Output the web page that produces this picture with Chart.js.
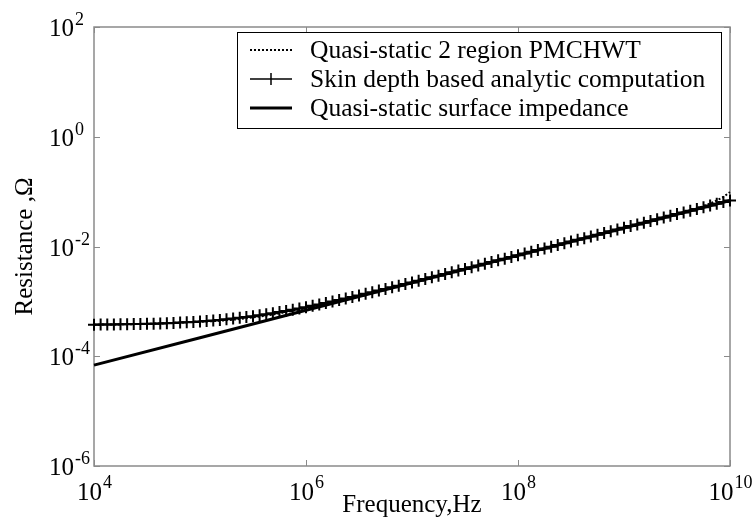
<!DOCTYPE html>
<html>
<head>
<meta charset="utf-8">
<script src="https://cdn.jsdelivr.net/npm/chart.js@4.4.0/dist/chart.umd.min.js"></script>
<style>
  html, body { margin: 0; padding: 0; background: #fff; }
</style>
</head>
<body>
<canvas id="plot" width="755" height="521"></canvas>
<script>
// frequency samples (Hz), 16 per decade
var freq = [
  1.000e4, 1.155e4, 1.334e4, 1.540e4, 1.778e4, 2.054e4, 2.371e4, 2.738e4, 3.162e4, 3.652e4, 4.217e4, 4.870e4, 5.623e4, 6.494e4, 7.499e4, 8.660e4,
  1.000e5, 1.155e5, 1.334e5, 1.540e5, 1.778e5, 2.054e5, 2.371e5, 2.738e5, 3.162e5, 3.652e5, 4.217e5, 4.870e5, 5.623e5, 6.494e5, 7.499e5, 8.660e5,
  1.000e6, 1.155e6, 1.334e6, 1.540e6, 1.778e6, 2.054e6, 2.371e6, 2.738e6, 3.162e6, 3.652e6, 4.217e6, 4.870e6, 5.623e6, 6.494e6, 7.499e6, 8.660e6,
  1.000e7, 1.155e7, 1.334e7, 1.540e7, 1.778e7, 2.054e7, 2.371e7, 2.738e7, 3.162e7, 3.652e7, 4.217e7, 4.870e7, 5.623e7, 6.494e7, 7.499e7, 8.660e7,
  1.000e8, 1.155e8, 1.334e8, 1.540e8, 1.778e8, 2.054e8, 2.371e8, 2.738e8, 3.162e8, 3.652e8, 4.217e8, 4.870e8, 5.623e8, 6.494e8, 7.499e8, 8.660e8,
  1.000e9, 1.155e9, 1.334e9, 1.540e9, 1.778e9, 2.054e9, 2.371e9, 2.738e9, 3.162e9, 3.652e9, 4.217e9, 4.870e9, 5.623e9, 6.494e9, 7.499e9, 8.660e9,
  1.000e10
];

// skin depth based analytic resistance (ohm)
var skinDepth = [
  3.76e-4, 3.77e-4, 3.79e-4, 3.80e-4, 3.81e-4, 3.83e-4, 3.85e-4, 3.87e-4, 3.90e-4, 3.93e-4, 3.96e-4, 4.00e-4, 4.05e-4, 4.10e-4, 4.16e-4, 4.22e-4,
  4.30e-4, 4.38e-4, 4.48e-4, 4.59e-4, 4.71e-4, 4.85e-4, 5.01e-4, 5.18e-4, 5.37e-4, 5.58e-4, 5.82e-4, 6.08e-4, 6.37e-4, 6.69e-4, 7.04e-4, 7.43e-4,
  7.85e-4, 8.31e-4, 8.81e-4, 9.35e-4, 9.94e-4, 1.059e-3, 1.128e-3, 1.203e-3, 1.285e-3, 1.373e-3, 1.468e-3, 1.571e-3, 1.682e-3, 1.801e-3, 1.931e-3, 2.069e-3,
  2.219e-3, 2.381e-3, 2.554e-3, 2.741e-3, 2.941e-3, 3.158e-3, 3.390e-3, 3.640e-3, 3.909e-3, 4.198e-3, 4.509e-3, 4.843e-3, 5.202e-3, 5.588e-3, 6.003e-3, 6.451e-3,
  6.93e-3, 7.45e-3, 8.00e-3, 8.60e-3, 9.24e-3, 9.93e-3, 1.066e-2, 1.145e-2, 1.231e-2, 1.322e-2, 1.421e-2, 1.527e-2, 1.641e-2, 1.763e-2, 1.895e-2, 2.036e-2,
  2.188e-2, 2.352e-2, 2.527e-2, 2.716e-2, 2.918e-2, 3.136e-2, 3.370e-2, 3.621e-2, 3.891e-2, 4.182e-2, 4.494e-2, 4.829e-2, 5.189e-2, 5.576e-2, 5.992e-2, 6.440e-2,
  6.92e-2
];

// quasi-static 2 region PMCHWT result (ohm)
var pmchwt = [
  3.76e-4, 3.77e-4, 3.79e-4, 3.80e-4, 3.81e-4, 3.83e-4, 3.85e-4, 3.87e-4, 3.90e-4, 3.93e-4, 3.96e-4, 4.00e-4, 4.05e-4, 4.10e-4, 4.16e-4, 4.22e-4,
  4.25e-4, 4.30e-4, 4.36e-4, 4.44e-4, 4.53e-4, 4.64e-4, 4.77e-4, 4.92e-4, 5.09e-4, 5.29e-4, 5.51e-4, 5.76e-4, 6.05e-4, 6.37e-4, 6.73e-4, 7.13e-4,
  7.57e-4, 8.05e-4, 8.57e-4, 9.14e-4, 9.76e-4, 1.043e-3, 1.115e-3, 1.193e-3, 1.277e-3, 1.373e-3, 1.468e-3, 1.571e-3, 1.682e-3, 1.801e-3, 1.931e-3, 2.069e-3,
  2.219e-3, 2.381e-3, 2.554e-3, 2.741e-3, 2.941e-3, 3.158e-3, 3.390e-3, 3.640e-3, 3.909e-3, 4.198e-3, 4.509e-3, 4.843e-3, 5.202e-3, 5.588e-3, 6.003e-3, 6.451e-3,
  6.93e-3, 7.45e-3, 8.00e-3, 8.60e-3, 9.24e-3, 9.93e-3, 1.066e-2, 1.145e-2, 1.231e-2, 1.322e-2, 1.421e-2, 1.527e-2, 1.641e-2, 1.763e-2, 1.895e-2, 2.036e-2,
  2.188e-2, 2.352e-2, 2.527e-2, 2.716e-2, 2.918e-2, 3.136e-2, 3.370e-2, 3.621e-2, 3.90e-2, 4.20e-2, 4.55e-2, 4.95e-2, 5.45e-2, 6.10e-2, 6.90e-2, 8.00e-2,
  9.80e-2
];

// quasi-static surface impedance (ohm), one value per decade
var surfFreq = [1e4, 1e5, 1e6, 1e7, 1e8, 1e9, 1e10];
var surfImp = [6.9e-5, 2.18e-4, 6.9e-4, 2.18e-3, 6.9e-3, 2.18e-2, 6.9e-2];

var seriesNames = [
  'Quasi-static 2 region PMCHWT',
  'Skin depth based analytic computation',
  'Quasi-static surface impedance'
];

var xTicks = [1e4, 1e6, 1e8, 1e10];
var xExp = ['4', '6', '8', '10'];
var yTicks = [1e-6, 1e-4, 1e-2, 1e0, 1e2];
var yExp = ['-6', '-4', '-2', '0', '2'];

var xTitle = 'Frequency,Hz';
var yTitle = 'Resistance ,\u03A9';

var serif = '"Liberation Serif", "Times New Roman", serif';
var baseFont = '25px ' + serif;
var expFont = '18px ' + serif;

function pts(xs, ys) {
  return xs.map(function(x, i) { return {x: x, y: ys[i]}; });
}

// frame, inward ticks, power-of-ten labels, titles and legend
var decor = {
  id: 'decor',
  beforeDatasetsDraw: function(chart) {
    var ctx = chart.ctx, a = chart.chartArea;
    var xs = chart.scales.x, ys = chart.scales.y;
    ctx.save();
    ctx.strokeStyle = '#8a8a8a';
    ctx.lineWidth = 1.5;
    ctx.strokeRect(a.left, a.top, a.right - a.left, a.bottom - a.top);
    ctx.lineWidth = 1;
    ctx.beginPath();
    xs.ticks.forEach(function(t) {
      var px = Math.round(xs.getPixelForValue(t.value)) + 0.5;
      ctx.moveTo(px, a.bottom); ctx.lineTo(px, a.bottom - 6);
      ctx.moveTo(px, a.top); ctx.lineTo(px, a.top + 6);
    });
    ys.ticks.forEach(function(t) {
      var py = Math.round(ys.getPixelForValue(t.value)) + 0.5;
      ctx.moveTo(a.left, py); ctx.lineTo(a.left + 6, py);
      ctx.moveTo(a.right, py); ctx.lineTo(a.right - 6, py);
    });
    ctx.stroke();
    ctx.restore();
  },
  afterDraw: function(chart) {
    var ctx = chart.ctx, a = chart.chartArea;
    var xs = chart.scales.x, ys = chart.scales.y;
    ctx.save();
    ctx.fillStyle = '#000';
    ctx.textBaseline = 'alphabetic';

    // x tick labels: whole label centred on the tick
    xs.ticks.forEach(function(t, i) {
      var px = xs.getPixelForValue(t.value);
      ctx.font = baseFont;
      var wb = ctx.measureText('10').width;
      ctx.font = expFont;
      var we = ctx.measureText(xExp[i]).width;
      var x0 = px - (wb + we) / 2;
      ctx.textAlign = 'left';
      ctx.font = baseFont;
      ctx.fillText('10', x0, a.bottom + 34);
      ctx.font = expFont;
      ctx.fillText(xExp[i], x0 + wb + 1, a.bottom + 22);
    });

    // y tick labels: base right aligned, exponent hanging to the right
    ys.ticks.forEach(function(t, i) {
      var py = ys.getPixelForValue(t.value);
      ctx.textAlign = 'right';
      ctx.font = baseFont;
      ctx.fillText('10', a.left - 20, py + 9);
      ctx.textAlign = 'left';
      ctx.font = expFont;
      ctx.fillText(yExp[i], a.left - 19, py - 2);
    });

    // axis titles
    ctx.font = '25px ' + serif;
    ctx.textAlign = 'center';
    ctx.fillText(xTitle, (a.left + a.right) / 2, 512);
    ctx.save();
    ctx.translate(32, (a.top + a.bottom) / 2);
    ctx.rotate(-Math.PI / 2);
    ctx.fillText(yTitle, 0, 0);
    ctx.restore();

    // legend box
    var lx = 237, ly = 32, lw = 484, lh = 96;
    ctx.fillStyle = '#fff';
    ctx.fillRect(lx, ly, lw, lh);
    ctx.strokeStyle = '#000';
    ctx.lineWidth = 1;
    ctx.strokeRect(lx + 0.5, ly + 0.5, lw, lh);
    var rows = [50, 79, 108];
    var ds = chart.data.datasets;
    rows.forEach(function(ry, i) {
      var d = ds[i];
      ctx.save();
      ctx.strokeStyle = '#000';
      ctx.lineWidth = d.borderWidth;
      ctx.setLineDash(d.borderDash || []);
      ctx.beginPath();
      ctx.moveTo(250, ry); ctx.lineTo(292, ry);
      ctx.stroke();
      if (d.pointRadius > 0) {
        ctx.setLineDash([]);
        ctx.lineWidth = 1.5;
        ctx.beginPath();
        ctx.moveTo(271, ry - d.pointRadius); ctx.lineTo(271, ry + d.pointRadius);
        ctx.stroke();
      }
      ctx.restore();
      ctx.fillStyle = '#000';
      ctx.font = '25.5px ' + serif;
      ctx.textAlign = 'left';
      ctx.textBaseline = 'middle';
      ctx.fillText(d.label, 310, ry + 1);
    });
    ctx.restore();
  }
};

new Chart(document.getElementById('plot'), {
  type: 'line',
  data: {
    datasets: [{
      label: seriesNames[0],
      data: pts(freq, pmchwt),
      borderColor: '#000',
      borderWidth: 2,
      borderDash: [2, 2],
      pointRadius: 0,
      clip: false
    }, {
      label: seriesNames[1],
      data: pts(freq, skinDepth),
      borderColor: '#000',
      borderWidth: 1.5,
      pointStyle: 'cross',
      pointRadius: 6,
      pointBorderWidth: 2,
      pointBorderColor: '#000',
      clip: false
    }, {
      label: seriesNames[2],
      data: pts(surfFreq, surfImp),
      borderColor: '#000',
      borderWidth: 3,
      pointRadius: 0,
      clip: false
    }]
  },
  options: {
    responsive: false,
    animation: false,
    devicePixelRatio: 1,
    layout: { padding: { left: 94, top: 27, right: 25, bottom: 55 } },
    plugins: { legend: { display: false }, tooltip: { enabled: false } },
    elements: { line: { tension: 0 } },
    scales: {
      x: {
        type: 'logarithmic',
        min: 1e4, max: 1e10,
        afterBuildTicks: function(s) { s.ticks = xTicks.map(function(v) { return {value: v}; }); },
        afterFit: function(s) { s.height = 0; },
        ticks: { display: false },
        grid: { display: false },
        border: { display: false }
      },
      y: {
        type: 'logarithmic',
        min: 1e-6, max: 1e2,
        afterBuildTicks: function(s) { s.ticks = yTicks.map(function(v) { return {value: v}; }); },
        afterFit: function(s) { s.width = 0; },
        ticks: { display: false },
        grid: { display: false },
        border: { display: false }
      }
    }
  },
  plugins: [decor]
});
</script>
</body>
</html>
